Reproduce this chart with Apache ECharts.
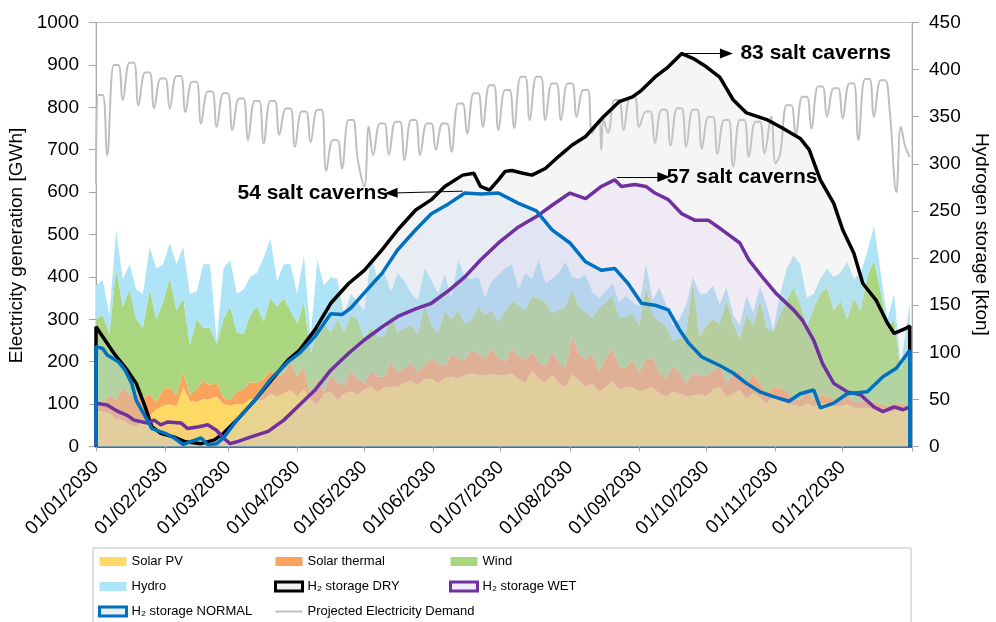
<!DOCTYPE html>
<html>
<head>
<meta charset="utf-8">
<script src="https://cdn.jsdelivr.net/npm/echarts@6/dist/echarts.min.js"></script>
<style>
  html, body { margin: 0; padding: 0; background: #fff; }
  #myChart { width: 996px; height: 622px; }
</style>
</head>
<body>
<div id="myChart"></div>
<script>
// day labels 01/01/2030 .. 01/01/2031 (category axis)
var dayLabels = [];
for (var i = 0; i <= 365; i++) {
  var dt = new Date(Date.UTC(2030, 0, 1 + i));
  var dd = ('0' + dt.getUTCDate()).slice(-2);
  var mm = ('0' + (dt.getUTCMonth() + 1)).slice(-2);
  dayLabels.push(dd + '/' + mm + '/' + dt.getUTCFullYear());
}

// generation, GWh, one value every 3 days (last sample = 31/12)
var solarPV = [85,82,78,65,62,52,48,60,72,88,96,100,95,140,108,105,112,112,118,100,96,100,100,112,108,110,125,118,125,133,118,
  135,110,100,125,130,110,125,130,122,135,141,128,140,141,141,150,155,145,160,160,150,162,165,160,168,172,168,168,172,168,
  168,172,160,150,178,160,150,170,150,140,170,155,141,148,130,140,155,135,140,141,130,135,140,125,118,130,125,118,120,124,118,
  135,141,118,125,133,112,126,115,102,118,108,100,98,94,102,94,100,102,96,94,100,92,90,90,88,84,80,84,92,84];
var solarThermal = [7,18,42,45,78,70,77,52,53,17,39,40,25,35,14,30,43,33,32,15,14,30,35,40,42,50,55,47,47,67,47,
  55,5,60,5,40,40,20,50,38,15,39,37,25,59,34,35,40,30,30,50,45,28,53,48,37,53,52,42,60,42,
  32,60,55,55,44,40,40,55,50,45,92,65,64,72,48,70,77,55,45,63,45,70,70,50,42,60,50,32,52,46,47,
  45,49,32,45,47,33,46,35,24,22,32,28,14,16,31,16,20,16,16,16,25,13,18,20,16,16,16,16,10,12];
var wind = [208,210,145,310,190,248,175,168,245,195,205,260,200,175,118,165,125,135,90,185,220,140,130,158,180,135,170,165,178,120,125,
  150,105,110,160,100,150,125,130,140,105,100,95,95,110,93,95,90,90,150,75,73,130,82,112,85,75,110,100,88,85,
  120,110,120,115,133,150,150,91,122,145,108,110,111,85,148,130,126,115,120,110,110,175,100,120,125,60,80,120,218,90,120,
  120,100,195,120,75,165,113,195,154,132,172,217,263,225,152,215,240,257,208,235,175,245,212,290,336,265,184,200,78,154];
var hydro = [80,82,45,90,63,60,70,80,100,120,90,80,110,120,120,65,150,150,10,120,110,90,105,90,80,150,140,60,80,110,70,
  110,40,170,90,130,95,40,50,40,65,170,135,150,55,140,110,75,80,80,108,93,85,50,120,110,95,70,40,70,110,
  100,88,35,90,40,90,45,79,88,105,30,65,89,60,24,25,27,35,50,26,45,50,35,80,50,35,45,65,10,100,75,
  80,45,30,20,30,45,31,32,52,3,48,75,75,95,65,35,35,45,80,65,135,45,88,60,80,45,20,60,10,90];

// projected demand, GWh: weekday plateau and Sunday low for each week, plus holidays
var demandHigh = [829,900,905,882,868,874,860,837,833,821,815,815,797,790,794,723,770,754,762,766,
  770,762,762,809,833,852,841,872,872,856,856,841,770,817,825,790,794,798,794,778,
  770,770,766,778,805,825,849,845,856,867,864,754];
var demandLow = [687,817,805,798,797,789,762,754,746,723,715,735,707,718,650,656,680,688,688,676,
  688,699,695,738,754,746,751,770,770,770,778,739,740,746,754,715,710,707,703,691,
  660,684,691,690,735,750,778,774,723,778,794,707];
var demandHolidays = [[0,620],[120,613],[226,700],[304,668],[358,600],[364,683]];

// hydrogen storage, kton: [day, value]
var storageDry = [[0,0],[0,127],[4,113],[8,99],[14,81],[18,67],[22,42],[25,21],[29,14],[35,10],[40,5],[47,3],[53,7],[57,14],
  [63,28],[71,49],[78,69],[86,92],[91,102],[98,124],[105,152],[113,173],[120,187],[128,209],[135,230],[143,251],[150,262],
  [156,276],[164,288],[169,290],[172,276],[176,272],[180,283],[183,292],[186,293],[191,290],[195,288],[201,295],[207,308],
  [213,320],[219,329],[227,350],[234,366],[240,371],[244,378],[250,392],[256,403],[262,417],[267,412],[273,403],[279,392],
  [285,368],[291,354],[300,347],[307,338],[315,327],[319,315],[324,283],[330,258],[334,230],[339,205],[343,173],[349,155],
  [354,131],[357,120],[362,125],[364,128],[364,0]];
var storageWet = [[0,0],[0,46],[5,44],[10,37],[14,33],[17,28],[23,25],[26,28],[29,23],[32,26],[38,25],[41,19],[46,21],[50,23],
  [54,17],[57,9],[60,3],[63,5],[69,10],[77,16],[84,28],[91,44],[98,60],[105,81],[113,99],[120,113],[128,127],[135,138],
  [143,146],[150,152],[158,166],[165,180],[172,198],[180,216],[189,233],[197,244],[204,256],[212,269],[219,263],[226,276],
  [232,283],[235,276],[241,278],[246,276],[250,269],[256,262],[262,247],[268,240],[274,240],[280,230],[288,216],[292,198],
  [298,180],[304,163],[312,145],[316,134],[321,113],[325,88],[330,67],[336,58],[342,55],[348,42],[352,37],[357,42],[361,39],
  [364,42],[364,0]];
var storageNormal = [[0,0],[0,106],[3,104],[5,97],[10,90],[13,81],[16,67],[18,49],[22,32],[25,19],[31,14],[35,9],[39,2],[42,5],
  [47,9],[50,2],[54,3],[57,9],[63,28],[71,49],[78,71],[86,90],[91,99],[98,117],[105,141],[110,140],[114,147],[120,163],
  [128,184],[135,209],[143,230],[150,247],[158,258],[165,269],[172,268],[180,269],[189,258],[197,250],[204,230],[212,216],
  [219,196],[226,187],[232,189],[238,173],[244,152],[250,150],[256,145],[261,124],[265,110],[271,95],[279,86],[285,78],
  [291,67],[297,58],[303,53],[310,48],[315,56],[321,60],[324,41],[330,46],[336,56],[345,58],[352,74],[358,83],[364,102],[364,0]];

function genDay(i) { return i === solarPV.length - 1 ? 364 : i * 3; }
function pairs(arr) { return arr.map(function (v, i) { return [genDay(i), v]; }); }

// week k: Sunday low on day 5+7k, plateau Wednesday..Friday before it
function demandPoints() {
  var m = {};
  for (var k = 0; k < demandLow.length; k++) {
    var sun = 5 + 7 * k;
    m[sun - 4] = demandHigh[k];
    m[sun - 2] = demandHigh[k];
    m[sun] = demandLow[k];
  }
  demandHolidays.forEach(function (h) { m[h[0]] = h[1]; });
  return Object.keys(m).map(Number).sort(function (a, b) { return a - b; })
    .map(function (d) { return [d, m[d]]; });
}

var fontMain = "'Liberation Sans', Arial, sans-serif";

function genSeries(name, data, color) {
  return {
    name: name, type: 'line', stack: 'gen', data: pairs(data),
    showSymbol: false, symbol: 'none', lineStyle: { width: 0 },
    areaStyle: { color: color, opacity: 1 }, itemStyle: { color: color }, z: 1
  };
}

function arrowLine(from, to, text, gap) {
  return {
    silent: true, symbol: ['none', 'triangle'], symbolSize: [10, 13],
    lineStyle: { color: '#000', width: 1, type: 'solid' },
    label: { show: true, position: 'end', distance: gap, formatter: text, color: '#000',
      fontSize: 21, fontWeight: 'bold', fontFamily: fontMain },
    data: [[{ coord: from }, { coord: to }]]
  };
}

function storageSeries(name, data, color, fill, mark) {
  return {
    name: name, type: 'line', yAxisIndex: 1, data: data,
    showSymbol: false, symbol: 'none',
    lineStyle: { color: color, width: 3.5 }, itemStyle: { color: color },
    areaStyle: { color: fill, opacity: 1 }, z: 3, markLine: mark
  };
}

var myChart = echarts.init(document.getElementById('myChart'));
var legendText = { color: '#000', fontSize: 13, fontFamily: fontMain };
function legendCol(x, items) {
  return { orient: 'vertical', left: x, top: 555, padding: 0, itemWidth: 27, itemHeight: 9, itemGap: 12,
    textStyle: legendText, selectedMode: false, data: items };
}
var option = {
  animation: false,
  grid: { left: 96, right: 84, top: 22.5, bottom: 175.5, containLabel: false, outerBoundsMode: 'none',
    show: true, borderColor: '#BFBFBF', borderWidth: 1 },
  legend: [
    legendCol(98, [{ name: 'Solar PV', icon: 'rect' }, { name: 'Hydro', icon: 'rect' },
      { name: 'H₂ storage NORMAL', icon: 'rect', itemStyle: { color: '#E9EEF6', borderColor: '#0070C0', borderWidth: 3 } }]),
    legendCol(274, [{ name: 'Solar thermal', icon: 'rect' },
      { name: 'H₂ storage DRY', icon: 'rect', itemStyle: { color: '#F2F2F2', borderColor: '#000', borderWidth: 3 } },
      { name: 'Projected Electricity Demand', icon: 'path://M0,0 L27,0 L27,2 L0,2 Z' }]),
    legendCol(449, [{ name: 'Wind', icon: 'rect' },
      { name: 'H₂ storage WET', icon: 'rect', itemStyle: { color: '#F1ECF5', borderColor: '#7030A0', borderWidth: 3 } }])
  ],
  graphic: [{ type: 'rect', shape: { x: 93, y: 548, width: 818, height: 90 },
    style: { fill: 'none', stroke: '#BFBFBF', lineWidth: 1 }, silent: true }],
  xAxis: {
    type: 'category', data: dayLabels, boundaryGap: false,
    axisLine: { lineStyle: { color: '#2E75B6', width: 2 } },
    axisTick: { show: true, length: 5, lineStyle: { color: '#A6A6A6' },
      interval: function (idx, val) { return val.slice(0, 3) === '01/'; } },
    axisLabel: { rotate: 45, margin: 18, color: '#000', fontSize: 19, fontFamily: fontMain,
      interval: function (idx, val) { return val.slice(0, 3) === '01/' && idx < 365; } },
    splitLine: { show: false }
  },
  yAxis: [
    { type: 'value', min: 0, max: 1000, interval: 100, position: 'left',
      name: 'Electricity generation [GWh]', nameLocation: 'middle', nameGap: 49, nameRotate: 90,
      nameTextStyle: { color: '#000', fontSize: 19, fontFamily: fontMain, padding: [0, 22, 0, 0] },
      axisLine: { show: true, lineStyle: { color: '#A6A6A6' } },
      axisTick: { show: true, length: 7, lineStyle: { color: '#A6A6A6' } },
      axisLabel: { color: '#000', fontSize: 19, margin: 17, fontFamily: fontMain,
        formatter: function (v) { return String(v); } },
      splitLine: { show: false } },
    { type: 'value', min: 0, max: 450, interval: 50, position: 'right',
      name: 'Hydrogen storage [kton]', nameLocation: 'middle', nameGap: 58, nameRotate: -90,
      nameTextStyle: { color: '#000', fontSize: 19, fontFamily: fontMain },
      axisLine: { show: true, lineStyle: { color: '#A6A6A6' } },
      axisTick: { show: true, length: 7, lineStyle: { color: '#A6A6A6' } },
      axisLabel: { color: '#000', fontSize: 19, margin: 17, fontFamily: fontMain,
        formatter: function (v) { return String(v); } },
      splitLine: { show: false } }
  ],
  series: [
    genSeries('Solar PV', solarPV, '#FFD966'),
    genSeries('Solar thermal', solarThermal, '#F9A35C'),
    genSeries('Wind', wind, '#ABD680'),
    genSeries('Hydro', hydro, '#ADE4F7'),
    { name: 'Projected Electricity Demand', type: 'line', data: demandPoints(), smooth: 0.4,
      showSymbol: false, symbol: 'none', lineStyle: { color: '#BFBFBF', width: 2 },
      itemStyle: { color: '#BFBFBF' }, z: 2 },
    storageSeries('H₂ storage DRY', storageDry, '#000000', 'rgba(210,210,210,0.22)',
      arrowLine([262, 417], [282, 417], '83 salt caverns', 14)),
    storageSeries('H₂ storage WET', storageWet, '#7030A0', 'rgba(200,170,230,0.15)',
      arrowLine([233, 286], [254, 286], '57 salt caverns', 3)),
    storageSeries('H₂ storage NORMAL', storageNormal, '#0070C0', 'rgba(170,200,240,0.16)',
      arrowLine([164, 271], [132, 269], '54 salt caverns', 3))
  ]
};
myChart.setOption(option);
</script>
</body>
</html>
